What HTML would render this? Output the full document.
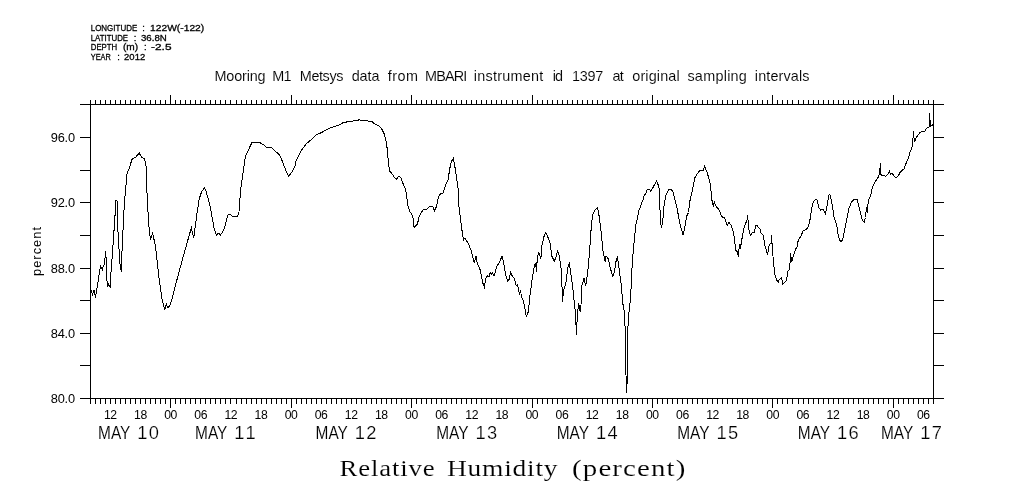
<!DOCTYPE html>
<html lang="en"><head><meta charset="utf-8"><title>Relative Humidity (percent)</title>
<style>
html,body{margin:0;padding:0;background:#fff;}
body{width:1009px;height:504px;overflow:hidden;position:relative;}
svg{position:absolute;left:0;top:0;display:block;}
text{fill:#000;white-space:pre;}
.s{font-family:"Liberation Sans","DejaVu Sans",sans-serif;}
.r{font-family:"Liberation Serif","DejaVu Serif",serif;}
</style></head><body>
<svg width="1009" height="504" viewBox="0 0 1009 504">
<rect x="0" y="0" width="1009" height="504" fill="#fff"/>
<path d="M80 104.5H944M80 398.5H944M90.5 104.5V398.5M933.5 104.5V398.5M90.5 104.5V100.0M90.5 398.5V404.0M95.5 104.5V100.0M95.5 398.5V404.0M100.5 104.5V100.0M100.5 398.5V404.0M105.5 104.5V100.0M105.5 398.5V404.0M110.5 104.5V100.0M110.5 398.5V404.0M115.5 104.5V100.0M115.5 398.5V404.0M120.5 104.5V100.0M120.5 398.5V404.0M125.5 104.5V100.0M125.5 398.5V404.0M130.5 104.5V100.0M130.5 398.5V404.0M135.5 104.5V100.0M135.5 398.5V404.0M140.5 104.5V100.0M140.5 398.5V404.0M145.5 104.5V100.0M145.5 398.5V404.0M150.5 104.5V100.0M150.5 398.5V404.0M155.5 104.5V100.0M155.5 398.5V404.0M160.5 104.5V100.0M160.5 398.5V404.0M165.5 104.5V100.0M165.5 398.5V404.0M170.5 104.5V95.0M170.5 398.5V408.0M175.5 104.5V100.0M175.5 398.5V404.0M180.5 104.5V100.0M180.5 398.5V404.0M185.5 104.5V100.0M185.5 398.5V404.0M190.5 104.5V100.0M190.5 398.5V404.0M195.5 104.5V100.0M195.5 398.5V404.0M200.5 104.5V100.0M200.5 398.5V404.0M205.5 104.5V100.0M205.5 398.5V404.0M210.5 104.5V100.0M210.5 398.5V404.0M215.5 104.5V100.0M215.5 398.5V404.0M220.5 104.5V100.0M220.5 398.5V404.0M225.5 104.5V100.0M225.5 398.5V404.0M230.5 104.5V100.0M230.5 398.5V404.0M236.5 104.5V100.0M236.5 398.5V404.0M241.5 104.5V100.0M241.5 398.5V404.0M246.5 104.5V100.0M246.5 398.5V404.0M251.5 104.5V100.0M251.5 398.5V404.0M256.5 104.5V100.0M256.5 398.5V404.0M261.5 104.5V100.0M261.5 398.5V404.0M266.5 104.5V100.0M266.5 398.5V404.0M271.5 104.5V100.0M271.5 398.5V404.0M276.5 104.5V100.0M276.5 398.5V404.0M281.5 104.5V100.0M281.5 398.5V404.0M286.5 104.5V100.0M286.5 398.5V404.0M291.5 104.5V95.0M291.5 398.5V408.0M296.5 104.5V100.0M296.5 398.5V404.0M301.5 104.5V100.0M301.5 398.5V404.0M306.5 104.5V100.0M306.5 398.5V404.0M311.5 104.5V100.0M311.5 398.5V404.0M316.5 104.5V100.0M316.5 398.5V404.0M321.5 104.5V100.0M321.5 398.5V404.0M326.5 104.5V100.0M326.5 398.5V404.0M331.5 104.5V100.0M331.5 398.5V404.0M336.5 104.5V100.0M336.5 398.5V404.0M341.5 104.5V100.0M341.5 398.5V404.0M346.5 104.5V100.0M346.5 398.5V404.0M351.5 104.5V100.0M351.5 398.5V404.0M356.5 104.5V100.0M356.5 398.5V404.0M361.5 104.5V100.0M361.5 398.5V404.0M366.5 104.5V100.0M366.5 398.5V404.0M371.5 104.5V100.0M371.5 398.5V404.0M376.5 104.5V100.0M376.5 398.5V404.0M381.5 104.5V100.0M381.5 398.5V404.0M386.5 104.5V100.0M386.5 398.5V404.0M391.5 104.5V100.0M391.5 398.5V404.0M396.5 104.5V100.0M396.5 398.5V404.0M401.5 104.5V100.0M401.5 398.5V404.0M406.5 104.5V100.0M406.5 398.5V404.0M411.5 104.5V95.0M411.5 398.5V408.0M416.5 104.5V100.0M416.5 398.5V404.0M421.5 104.5V100.0M421.5 398.5V404.0M426.5 104.5V100.0M426.5 398.5V404.0M431.5 104.5V100.0M431.5 398.5V404.0M436.5 104.5V100.0M436.5 398.5V404.0M441.5 104.5V100.0M441.5 398.5V404.0M446.5 104.5V100.0M446.5 398.5V404.0M451.5 104.5V100.0M451.5 398.5V404.0M456.5 104.5V100.0M456.5 398.5V404.0M461.5 104.5V100.0M461.5 398.5V404.0M466.5 104.5V100.0M466.5 398.5V404.0M471.5 104.5V100.0M471.5 398.5V404.0M476.5 104.5V100.0M476.5 398.5V404.0M481.5 104.5V100.0M481.5 398.5V404.0M486.5 104.5V100.0M486.5 398.5V404.0M491.5 104.5V100.0M491.5 398.5V404.0M496.5 104.5V100.0M496.5 398.5V404.0M501.5 104.5V100.0M501.5 398.5V404.0M506.5 104.5V100.0M506.5 398.5V404.0M512.5 104.5V100.0M512.5 398.5V404.0M517.5 104.5V100.0M517.5 398.5V404.0M522.5 104.5V100.0M522.5 398.5V404.0M527.5 104.5V100.0M527.5 398.5V404.0M532.5 104.5V95.0M532.5 398.5V408.0M537.5 104.5V100.0M537.5 398.5V404.0M542.5 104.5V100.0M542.5 398.5V404.0M547.5 104.5V100.0M547.5 398.5V404.0M552.5 104.5V100.0M552.5 398.5V404.0M557.5 104.5V100.0M557.5 398.5V404.0M562.5 104.5V100.0M562.5 398.5V404.0M567.5 104.5V100.0M567.5 398.5V404.0M572.5 104.5V100.0M572.5 398.5V404.0M577.5 104.5V100.0M577.5 398.5V404.0M582.5 104.5V100.0M582.5 398.5V404.0M587.5 104.5V100.0M587.5 398.5V404.0M592.5 104.5V100.0M592.5 398.5V404.0M597.5 104.5V100.0M597.5 398.5V404.0M602.5 104.5V100.0M602.5 398.5V404.0M607.5 104.5V100.0M607.5 398.5V404.0M612.5 104.5V100.0M612.5 398.5V404.0M617.5 104.5V100.0M617.5 398.5V404.0M622.5 104.5V100.0M622.5 398.5V404.0M627.5 104.5V100.0M627.5 398.5V404.0M632.5 104.5V100.0M632.5 398.5V404.0M637.5 104.5V100.0M637.5 398.5V404.0M642.5 104.5V100.0M642.5 398.5V404.0M647.5 104.5V100.0M647.5 398.5V404.0M652.5 104.5V95.0M652.5 398.5V408.0M657.5 104.5V100.0M657.5 398.5V404.0M662.5 104.5V100.0M662.5 398.5V404.0M667.5 104.5V100.0M667.5 398.5V404.0M672.5 104.5V100.0M672.5 398.5V404.0M677.5 104.5V100.0M677.5 398.5V404.0M682.5 104.5V100.0M682.5 398.5V404.0M687.5 104.5V100.0M687.5 398.5V404.0M692.5 104.5V100.0M692.5 398.5V404.0M697.5 104.5V100.0M697.5 398.5V404.0M702.5 104.5V100.0M702.5 398.5V404.0M707.5 104.5V100.0M707.5 398.5V404.0M712.5 104.5V100.0M712.5 398.5V404.0M717.5 104.5V100.0M717.5 398.5V404.0M722.5 104.5V100.0M722.5 398.5V404.0M727.5 104.5V100.0M727.5 398.5V404.0M732.5 104.5V100.0M732.5 398.5V404.0M737.5 104.5V100.0M737.5 398.5V404.0M742.5 104.5V100.0M742.5 398.5V404.0M747.5 104.5V100.0M747.5 398.5V404.0M752.5 104.5V100.0M752.5 398.5V404.0M757.5 104.5V100.0M757.5 398.5V404.0M762.5 104.5V100.0M762.5 398.5V404.0M767.5 104.5V100.0M767.5 398.5V404.0M772.5 104.5V95.0M772.5 398.5V408.0M777.5 104.5V100.0M777.5 398.5V404.0M782.5 104.5V100.0M782.5 398.5V404.0M787.5 104.5V100.0M787.5 398.5V404.0M792.5 104.5V100.0M792.5 398.5V404.0M798.5 104.5V100.0M798.5 398.5V404.0M803.5 104.5V100.0M803.5 398.5V404.0M808.5 104.5V100.0M808.5 398.5V404.0M813.5 104.5V100.0M813.5 398.5V404.0M818.5 104.5V100.0M818.5 398.5V404.0M823.5 104.5V100.0M823.5 398.5V404.0M828.5 104.5V100.0M828.5 398.5V404.0M833.5 104.5V100.0M833.5 398.5V404.0M838.5 104.5V100.0M838.5 398.5V404.0M843.5 104.5V100.0M843.5 398.5V404.0M848.5 104.5V100.0M848.5 398.5V404.0M853.5 104.5V100.0M853.5 398.5V404.0M858.5 104.5V100.0M858.5 398.5V404.0M863.5 104.5V100.0M863.5 398.5V404.0M868.5 104.5V100.0M868.5 398.5V404.0M873.5 104.5V100.0M873.5 398.5V404.0M878.5 104.5V100.0M878.5 398.5V404.0M883.5 104.5V100.0M883.5 398.5V404.0M888.5 104.5V100.0M888.5 398.5V404.0M893.5 104.5V95.0M893.5 398.5V408.0M898.5 104.5V100.0M898.5 398.5V404.0M903.5 104.5V100.0M903.5 398.5V404.0M908.5 104.5V100.0M908.5 398.5V404.0M913.5 104.5V100.0M913.5 398.5V404.0M918.5 104.5V100.0M918.5 398.5V404.0M923.5 104.5V100.0M923.5 398.5V404.0M928.5 104.5V100.0M928.5 398.5V404.0M933.5 104.5V100.0M933.5 398.5V404.0M80 365.5H90.5M933.5 365.5H944M80 333.5H90.5M933.5 333.5H944M80 300.5H90.5M933.5 300.5H944M80 268.5H90.5M933.5 268.5H944M80 235.5H90.5M933.5 235.5H944M80 202.5H90.5M933.5 202.5H944M80 170.5H90.5M933.5 170.5H944M80 137.5H90.5M933.5 137.5H944" fill="none" stroke="#000" stroke-width="1" shape-rendering="crispEdges"/>
<path d="M90.5 290.2L91.5 290.4L92.6 295.8L93.6 290.2L94.4 290.3L95.5 297.8L96.5 290.2L97.5 285.4L98.5 278.3L99.5 271.9L100.6 266.2L102.5 269.6L103.5 265.2L104.5 264.4L105.0 258.0L105.5 251.4L106.4 262.0L106.7 277.5L107.6 286.6L108.6 283.8L110.5 287.6L110.7 276.7L111.6 264.0L112.4 254.5L114.8 218.8L116.0 199.8L117.0 200.5L118.0 232.0L119.0 248.7L120.0 263.8L121.0 270.0L121.5 272.0L122.0 251.0L122.6 238.0L124.3 204.5L126.0 185.0L126.4 177.0L127.4 172.8L129.4 168.0L130.6 164.0L131.7 160.1L132.6 158.6L134.1 157.8L136.4 156.8L137.0 155.3L139.4 153.2L141.3 156.9L144.6 158.8L145.6 164.0L146.3 168.0L146.6 188.0L147.4 197.0L148.1 214.0L149.3 230.7L150.5 239.8L152.6 233.1L155.2 245.0L156.4 254.5L158.8 276.0L161.7 297.4L164.8 310.0L166.4 304.0L167.9 308.0L170.2 305.0L173.1 295.0L177.9 276.0L183.8 254.5L189.8 233.1L191.4 228.3L192.6 234.3L193.8 237.4L195.0 228.3L196.9 214.0L199.3 198.6L201.5 192.0L204.4 188.1L206.0 191.0L208.0 198.0L210.0 205.7L212.4 218.8L214.0 228.3L216.4 235.0L218.8 233.1L220.3 235.0L221.9 233.1L224.3 228.3L227.9 215.2L230.2 214.0L232.6 216.9L237.4 216.9L239.0 211.7L240.6 190.0L242.9 173.5L245.3 156.8L248.5 149.7L252.0 142.5L259.6 142.5L263.6 144.9L266.7 147.3L271.8 147.6L276.3 152.0L279.4 154.9L281.8 160.0L285.8 170.3L288.5 176.3L292.1 171.9L295.0 166.3L296.1 160.8L300.9 151.0L306.4 143.8L313.6 137.5L316.0 135.1L321.5 132.5L330.2 127.9L338.2 125.4L343.7 122.4L350.9 121.4L358.0 120.3L359.1 119.2L360.4 120.8L371.5 121.1L374.7 124.0L378.7 125.9L381.8 129.0L384.2 133.8L386.6 143.3L387.7 154.4L388.7 165.6L389.8 171.4L392.1 173.8L394.5 177.8L396.4 179.4L398.5 176.2L400.9 177.8L402.5 182.5L404.8 187.3L406.4 193.7L407.7 204.8L409.6 211.1L412.8 215.9L414.0 227.3L417.5 223.8L419.1 216.7L423.1 209.5L427.1 209.2L428.7 207.1L432.6 206.3L434.5 210.6L436.6 206.3L438.2 197.6L439.8 194.4L442.9 192.9L445.3 185.7L448.5 178.6L449.3 170.6L451.3 161.9L453.3 158.3L455.6 170.6L458.0 188.1L458.8 205.6L460.6 220.0L461.9 229.9L463.5 239.8L464.9 238.3L467.9 242.8L470.9 249.8L472.9 257.7L474.2 262.7L476.2 255.7L477.2 263.7L479.8 268.6L481.8 277.5L483.2 284.5L484.4 287.1L485.8 278.5L487.7 275.6L489.0 276.5L490.1 272.6L491.2 274.5L492.3 272.6L494.1 276.0L496.7 266.6L499.6 261.7L502.0 256.3L503.6 262.7L505.6 274.6L507.6 281.1L509.0 279.5L510.6 272.6L512.5 276.5L514.5 278.5L516.1 285.5L517.5 284.5L519.5 294.4L520.5 290.4L521.5 296.4L523.5 301.3L525.0 309.3L526.4 317.2L528.4 311.3L530.0 295.4L532.4 277.5L534.4 265.6L535.8 263.3L536.3 271.6L537.3 258.7L538.7 251.7L540.9 258.7L541.9 245.8L543.9 236.9L545.8 232.2L548.1 237.8L550.5 244.7L551.5 255.6L554.3 261.0L555.9 257.5L557.5 251.2L558.8 253.6L560.8 265.5L561.8 279.4L562.4 302.0L563.8 289.3L565.8 283.3L567.8 267.5L569.4 263.5L570.8 273.4L572.7 287.3L575.1 309.7L576.6 334.8L577.3 314.0L578.8 303.1L580.1 311.8L581.2 303.1L581.7 286.3L584.0 278.4L585.6 286.3L587.6 273.4L588.6 263.5L590.0 245.6L591.2 227.8L592.6 214.9L595.2 209.9L597.5 207.5L599.1 215.9L601.1 231.7L603.1 251.6L605.1 261.5L606.1 256.0L608.5 259.1L610.4 268.5L612.8 276.4L614.4 271.4L616.0 261.5L617.4 256.5L619.0 267.5L621.0 283.3L623.1 305.3L624.7 314.0L625.3 335.9L626.0 375.2L626.6 393.0L627.3 377.3L627.5 333.7L629.0 311.8L630.8 296.6L631.3 279.4L632.7 257.5L634.4 238.3L636.0 224.4L638.9 210.6L641.9 202.5L643.2 200.0L643.7 196.5L646.0 193.3L647.1 189.8L649.5 189.5L650.5 191.1L653.1 187.4L656.4 181.0L658.4 185.4L659.5 189.4L659.6 200.6L660.2 214.5L661.3 228.4L662.7 222.5L664.1 204.6L666.1 194.7L668.7 189.7L671.1 189.1L673.3 192.7L675.2 200.6L677.2 208.6L679.2 220.5L681.2 228.4L683.2 235.4L684.6 228.4L686.5 216.5L688.5 212.5L690.0 200.5L692.4 190.7L694.2 181.0L695.0 177.5L696.7 174.7L699.9 170.5L703.4 170.1L704.5 166.3L706.4 170.9L707.5 173.5L710.2 183.8L711.4 195.0L711.9 200.0L713.3 205.6L714.3 202.2L716.3 206.6L719.0 209.8L721.9 216.8L724.5 217.8L727.2 225.1L729.0 222.3L731.3 225.6L732.5 229.0L733.7 233.8L734.5 240.2L735.4 247.0L735.8 250.5L737.2 251.5L738.4 256.5L739.4 243.6L740.4 248.5L741.8 239.6L744.4 226.5L745.8 223.0L746.8 220.3L747.3 219.0L747.5 215.2L747.7 219.0L748.4 222.0L748.7 229.0L750.4 235.4L752.4 232.6L754.4 232.2L755.6 226.0L756.7 225.1L759.1 228.3L760.3 229.5L761.1 233.0L763.4 235.4L764.3 241.7L765.1 246.9L766.2 249.5L767.6 255.1L768.5 249.0L769.2 244.5L770.9 243.0L771.3 242.5L771.5 235.2L771.7 242.8L772.5 244.5L772.7 252.0L773.5 263.4L775.1 275.3L776.9 280.3L778.1 282.3L779.5 279.3L781.5 277.3L782.9 284.2L784.8 282.3L786.4 280.3L788.0 271.3L789.8 268.4L790.4 253.5L791.8 262.4L793.4 255.5L795.4 249.5L797.3 246.5L798.3 239.6L800.7 236.6L803.3 230.7L806.3 229.7L808.5 226.0L810.0 219.6L811.8 208.0L813.5 201.6L815.5 199.2L816.9 200.0L818.8 207.5L820.8 210.1L823.4 209.5L825.4 213.9L827.4 203.6L828.8 195.2L829.8 194.6L831.3 200.6L832.7 207.5L834.1 217.5L836.7 225.4L838.3 235.3L839.7 240.3L841.3 241.7L842.7 239.3L844.6 230.4L846.6 220.4L848.6 209.5L851.2 202.6L853.6 199.6L857.1 199.6L858.5 204.6L860.5 213.5L862.5 220.4L864.1 222.4L865.5 217.5L866.5 207.5L867.1 212.5L868.5 199.6L870.4 196.6L872.4 187.7L874.4 182.7L876.4 179.8L878.8 176.5L879.8 171.0L880.5 163.0L880.9 174.7L883.0 175.6L886.1 176.2L888.3 173.4L889.4 171.4L890.3 174.3L891.8 173.0L893.8 175.7L896.2 178.0L898.3 176.0L900.2 172.2L902.5 169.8L904.1 169.0L905.7 164.3L908.1 158.7L910.0 152.4L912.1 146.8L912.9 139.7L913.5 131.0L914.0 138.1L914.8 142.1L915.7 138.1L917.6 135.7L920.0 132.5L922.4 131.4L924.8 131.0L927.1 127.8L929.0 127.0L929.5 113.5L930.0 119.8L930.8 126.2L932.2 125.4L933.5 123.8" fill="none" stroke="#000" stroke-width="1" stroke-linejoin="miter" shape-rendering="crispEdges"/>
<text class="s" font-size="9.4" y="30.90" stroke="#000" stroke-width="0.3"><tspan x="90.75" textLength="46.46" lengthAdjust="spacingAndGlyphs">LONGITUDE</tspan> <tspan x="142.20">:</tspan> <tspan x="150.00" textLength="54.23" lengthAdjust="spacingAndGlyphs">122W(-122)</tspan></text>
<text class="s" font-size="9.4" y="40.58" stroke="#000" stroke-width="0.3"><tspan x="90.75" textLength="37.36" lengthAdjust="spacingAndGlyphs">LATITUDE</tspan> <tspan x="133.75">:</tspan> <tspan x="141.00" textLength="25.79" lengthAdjust="spacingAndGlyphs">36.8N</tspan></text>
<text class="s" font-size="9.4" y="50.26" stroke="#000" stroke-width="0.3"><tspan x="90.75" textLength="26.49" lengthAdjust="spacingAndGlyphs">DEPTH</tspan> <tspan x="122.90" textLength="15.13" lengthAdjust="spacingAndGlyphs">(m)</tspan> <tspan x="143.90">:</tspan> <tspan x="151.00" textLength="20.52" lengthAdjust="spacingAndGlyphs">-2.5</tspan></text>
<text class="s" font-size="9.4" y="59.94" stroke="#000" stroke-width="0.3"><tspan x="90.75" textLength="20.07" lengthAdjust="spacingAndGlyphs">YEAR</tspan> <tspan x="117.30">:</tspan> <tspan x="124.10" textLength="21.12" lengthAdjust="spacingAndGlyphs">2012</tspan></text>
<text class="s" font-size="14.4" y="81.30" stroke="#fff" stroke-width="0.1"><tspan x="214.55" letter-spacing="-0.17">Mooring</tspan> <tspan x="272.26" letter-spacing="-0.80">M1</tspan> <tspan x="299.80" letter-spacing="-0.40">Metsys</tspan> <tspan x="351.70" letter-spacing="-0.07">data</tspan> <tspan x="387.80" letter-spacing="0.44">from</tspan> <tspan x="424.96" letter-spacing="-0.80">MBARI</tspan> <tspan x="473.80" letter-spacing="0.25">instrument</tspan> <tspan x="552.65" letter-spacing="-0.80">id</tspan> <tspan x="571.90" letter-spacing="-0.20">1397</tspan> <tspan x="612.60" letter-spacing="-0.80">at</tspan> <tspan x="632.30" letter-spacing="0.14">original</tspan> <tspan x="687.40" letter-spacing="0.27">sampling</tspan> <tspan x="754.80" letter-spacing="0.14">intervals</tspan></text>
<text class="s" font-size="12.8" letter-spacing="-0.16" x="50.70" y="403.00">80.0</text>
<text class="s" font-size="12.8" letter-spacing="-0.16" x="50.70" y="337.75">84.0</text>
<text class="s" font-size="12.8" letter-spacing="-0.16" x="50.70" y="272.50">88.0</text>
<text class="s" font-size="12.8" letter-spacing="-0.16" x="50.70" y="207.25">92.0</text>
<text class="s" font-size="12.8" letter-spacing="-0.16" x="50.70" y="142.00">96.0</text>
<text class="s" font-size="12.8" letter-spacing="1.05" transform="translate(40.60 276.00) rotate(-90)">percent</text>
<text class="s" font-size="12.2" letter-spacing="-0.40" x="103.98" y="418.80">12</text>
<text class="s" font-size="12.2" letter-spacing="-0.40" x="134.09" y="418.80">18</text>
<text class="s" font-size="12.2" letter-spacing="-0.40" x="164.20" y="418.80">00</text>
<text class="s" font-size="12.2" letter-spacing="-0.40" x="194.30" y="418.80">06</text>
<text class="s" font-size="12.2" letter-spacing="-0.40" x="224.41" y="418.80">12</text>
<text class="s" font-size="12.2" letter-spacing="-0.40" x="254.52" y="418.80">18</text>
<text class="s" font-size="12.2" letter-spacing="-0.40" x="284.63" y="418.80">00</text>
<text class="s" font-size="12.2" letter-spacing="-0.40" x="314.73" y="418.80">06</text>
<text class="s" font-size="12.2" letter-spacing="-0.40" x="344.84" y="418.80">12</text>
<text class="s" font-size="12.2" letter-spacing="-0.40" x="374.95" y="418.80">18</text>
<text class="s" font-size="12.2" letter-spacing="-0.40" x="405.05" y="418.80">00</text>
<text class="s" font-size="12.2" letter-spacing="-0.40" x="435.16" y="418.80">06</text>
<text class="s" font-size="12.2" letter-spacing="-0.40" x="465.27" y="418.80">12</text>
<text class="s" font-size="12.2" letter-spacing="-0.40" x="495.38" y="418.80">18</text>
<text class="s" font-size="12.2" letter-spacing="-0.40" x="525.48" y="418.80">00</text>
<text class="s" font-size="12.2" letter-spacing="-0.40" x="555.59" y="418.80">06</text>
<text class="s" font-size="12.2" letter-spacing="-0.40" x="585.70" y="418.80">12</text>
<text class="s" font-size="12.2" letter-spacing="-0.40" x="615.80" y="418.80">18</text>
<text class="s" font-size="12.2" letter-spacing="-0.40" x="645.91" y="418.80">00</text>
<text class="s" font-size="12.2" letter-spacing="-0.40" x="676.02" y="418.80">06</text>
<text class="s" font-size="12.2" letter-spacing="-0.40" x="706.13" y="418.80">12</text>
<text class="s" font-size="12.2" letter-spacing="-0.40" x="736.23" y="418.80">18</text>
<text class="s" font-size="12.2" letter-spacing="-0.40" x="766.34" y="418.80">00</text>
<text class="s" font-size="12.2" letter-spacing="-0.40" x="796.45" y="418.80">06</text>
<text class="s" font-size="12.2" letter-spacing="-0.40" x="826.55" y="418.80">12</text>
<text class="s" font-size="12.2" letter-spacing="-0.40" x="856.66" y="418.80">18</text>
<text class="s" font-size="12.2" letter-spacing="-0.40" x="886.77" y="418.80">00</text>
<text class="s" font-size="12.2" letter-spacing="-0.40" x="916.88" y="418.80">06</text>
<text class="s" font-size="18.3" y="439" stroke="#fff" stroke-width="0.22"><tspan x="98.06" textLength="32.00" lengthAdjust="spacingAndGlyphs" stroke-width="0.12">MAY</tspan> <tspan x="137.30">1</tspan><tspan x="148.80">0</tspan></text>
<text class="s" font-size="18.3" y="439" stroke="#fff" stroke-width="0.22"><tspan x="195.06" textLength="32.00" lengthAdjust="spacingAndGlyphs" stroke-width="0.12">MAY</tspan> <tspan x="234.30">1</tspan><tspan x="245.45">1</tspan></text>
<text class="s" font-size="18.3" y="439" stroke="#fff" stroke-width="0.22"><tspan x="315.61" textLength="32.00" lengthAdjust="spacingAndGlyphs" stroke-width="0.12">MAY</tspan> <tspan x="354.85">1</tspan><tspan x="366.35">2</tspan></text>
<text class="s" font-size="18.3" y="439" stroke="#fff" stroke-width="0.22"><tspan x="436.16" textLength="32.00" lengthAdjust="spacingAndGlyphs" stroke-width="0.12">MAY</tspan> <tspan x="475.40">1</tspan><tspan x="486.90">3</tspan></text>
<text class="s" font-size="18.3" y="439" stroke="#fff" stroke-width="0.22"><tspan x="556.71" textLength="32.00" lengthAdjust="spacingAndGlyphs" stroke-width="0.12">MAY</tspan> <tspan x="595.95">1</tspan><tspan x="607.45">4</tspan></text>
<text class="s" font-size="18.3" y="439" stroke="#fff" stroke-width="0.22"><tspan x="677.26" textLength="32.00" lengthAdjust="spacingAndGlyphs" stroke-width="0.12">MAY</tspan> <tspan x="716.50">1</tspan><tspan x="728.00">5</tspan></text>
<text class="s" font-size="18.3" y="439" stroke="#fff" stroke-width="0.22"><tspan x="797.81" textLength="32.00" lengthAdjust="spacingAndGlyphs" stroke-width="0.12">MAY</tspan> <tspan x="837.05">1</tspan><tspan x="848.55">6</tspan></text>
<text class="s" font-size="18.3" y="439" stroke="#fff" stroke-width="0.22"><tspan x="880.96" textLength="32.00" lengthAdjust="spacingAndGlyphs" stroke-width="0.12">MAY</tspan> <tspan x="920.20">1</tspan><tspan x="931.70">7</tspan></text>
<text class="r" font-size="23.3" y="475.50" stroke="#fff" stroke-width="0.12"><tspan x="339.60" letter-spacing="0.71" textLength="95.81" lengthAdjust="spacingAndGlyphs">Relative</tspan> <tspan x="447.00" letter-spacing="0.63" textLength="111.33" lengthAdjust="spacingAndGlyphs">Humidity</tspan> <tspan x="572.06" letter-spacing="0.92" textLength="114.52" lengthAdjust="spacingAndGlyphs">(percent)</tspan></text>
</svg></body></html>
